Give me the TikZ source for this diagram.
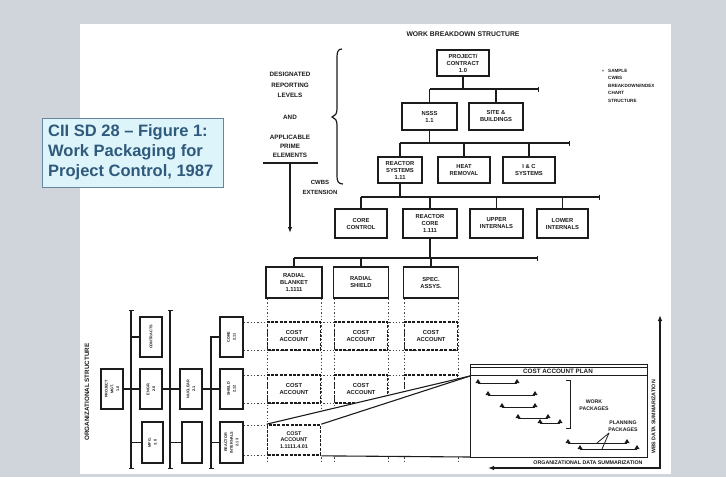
\documentclass[tikz,border=0pt]{standalone}
\usepackage{fontspec}
\setmainfont{Liberation Sans}
\usetikzlibrary{arrows.meta}

\definecolor{slide}{HTML}{D0D4DB}
\definecolor{ink}{HTML}{1C1C1C}
\definecolor{capfill}{HTML}{DDF4FA}
\definecolor{capedge}{HTML}{6585A0}
\definecolor{captext}{HTML}{2F5A7C}
\definecolor{gridink}{HTML}{474747}

\newcommand\fsz[2]{\fontsize{#1}{#2}\selectfont\bfseries}
% a bar with milestone triangles at both ends: x1, x2, y
\newcommand\wpbar[3]{%
  \draw[ink, line width=0.9pt] (#1,#3) -- (#2,#3);
  \fill[ink] (#1-2.5,#3) -- (#1,#3-4) -- (#1+2.5,#3) -- cycle;
  \fill[ink] (#2-2.5,#3) -- (#2,#3-4) -- (#2+2.5,#3) -- cycle;}

\tikzset{
  bigtip/.tip={Latex[length=6pt,width=4.5pt]},
  bartip/.tip={Bar[width=5pt,line width=1.1pt]},
}

\begin{document}
\begin{tikzpicture}[x=1pt,y=-1pt,
  wbs/.style={draw=ink, line width=1.4pt, fill=white, inner sep=0pt, align=center,
    font=\fsz{5.8}{7}, text=ink},
  acct/.style={draw=ink, line width=1.7pt, dash pattern=on 3pt off 1.4pt, fill=white,
    inner sep=0pt, align=center, font=\fsz{5.8}{7}, text=ink,
    minimum width=53pt, minimum height=28pt},
  org/.style={draw=ink, line width=1.1pt, fill=white, inner sep=0pt,
    minimum width=22pt, minimum height=40pt, font=\fsz{3.8}{4.6}, text=ink},
  bus/.style={draw=ink, line width=1.1pt},
  busend/.style={bus, -{bartip}},
  gridline/.style={draw=gridink, line width=1pt, dash pattern=on 1.3pt off 2pt},
  lbl/.style={font=\fsz{6.3}{10.5}, align=center, text=ink, inner sep=0pt},
  small/.style={font=\fsz{5.2}{6.6}, align=center, text=ink, inner sep=0pt},
]
\useasboundingbox (0,0) rectangle (726,477);
\fill[slide] (0,0) rectangle (726,477);
\fill[white] (80,24) rectangle (671,474);

% ---------------- caption ----------------
\node[draw=capedge, line width=1.2pt, fill=capfill, minimum width=181pt,
  minimum height=69pt, anchor=north west, inner sep=0pt] (capbox) at (42,118) {};
\node[anchor=west, align=left, font=\fontsize{16.5}{20}\selectfont\bfseries,
  text=captext, inner sep=0pt] (captxt) at (48,152.5)
  {CII SD 28 -- Figure 1:\\Work Packaging for\\Project Control, 1987};

% ---------------- headings ----------------
\node[font=\fsz{6.8}{8}, text=ink] (title) at (463,34) {WORK BREAKDOWN STRUCTURE};
\node[lbl] (desig) at (290,85) {DESIGNATED\\REPORTING\\LEVELS};
\node[lbl] (andlbl) at (290,117) {AND};
\node[lbl, font=\fsz{6.3}{9}] (appl) at (290,146) {APPLICABLE\\PRIME\\ELEMENTS};
\coordinate (ulL) at (263,163);
\coordinate (ulR) at (318,163);
\coordinate (ulM) at (290,163);
\coordinate (extEnd) at (290,233);
\draw[ink, line width=1.1pt] (ulL) -- (ulR);
\draw[ink, line width=1.1pt, -{bigtip}] (ulM) -- (extEnd);
\node[lbl, font=\fsz{6.0}{10}] (cwbsext) at (320,187) {CWBS\\EXTENSION};
\draw[ink, line width=1.2pt] (342,49) .. controls (338,49) and (337,52) .. (337,57)
  -- (337,109) .. controls (337,114) and (335,116) .. (332,117)
  .. controls (335,118) and (337,120) .. (337,125)
  -- (337,176) .. controls (337,181) and (338,184) .. (343,184);

\node[text=gridink, font=\fsz{5}{6}, inner sep=0pt] (star) at (603,72) {*};
\node[font=\fsz{4.6}{7.5}, align=left, anchor=north west, text=ink, inner sep=0pt]
  (legend) at (608,69) {SAMPLE\\CWBS\\BREAKDOWN/INDEX\\CHART\\STRUCTURE};

% ---------------- work breakdown structure ----------------
\node[wbs, minimum width=52pt, minimum height=26pt, line width=1.7pt] (proj) at (463,63)
  {PROJECT/\\CONTRACT\\1.0};
\node[wbs, minimum width=55pt, minimum height=27pt] (nsss) at (429.5,116.5) {NSSS\\1.1};
\node[wbs, minimum width=54pt, minimum height=27pt] (site) at (496,116.5) {SITE \&\\BUILDINGS};

\node[wbs, minimum width=44pt, minimum height=26pt] (rsys) at (400,170) {REACTOR\\SYSTEMS\\1.11};
\node[wbs, minimum width=52pt, minimum height=26pt] (heat) at (464,170) {HEAT\\REMOVAL};
\node[wbs, minimum width=52pt, minimum height=26pt] (ic) at (529,170) {I \& C\\SYSTEMS};

\node[wbs, minimum width=52pt, minimum height=29pt] (corec) at (361,223.5) {CORE\\CONTROL};
\node[wbs, minimum width=54pt, minimum height=29pt] (rcore) at (430,223.5) {REACTOR\\CORE\\1.111};
\node[wbs, minimum width=53pt, minimum height=29pt] (upper) at (496.5,223.5) {UPPER\\INTERNALS};
\node[wbs, minimum width=51pt, minimum height=29pt] (lower) at (562.5,223.5) {LOWER\\INTERNALS};

\node[wbs, minimum width=56pt, minimum height=31pt] (rblank) at (294,282.5) {RADIAL\\BLANKET\\1.1111};
\node[wbs, minimum width=55pt, minimum height=31pt] (rshield) at (361,282.5) {RADIAL\\SHIELD};
\node[wbs, minimum width=55pt, minimum height=31pt] (spec) at (431,282.5) {SPEC.\\ASSYS.};

% level buses
\coordinate (b1L) at (429.5,89);  \coordinate (b1R) at (539,89);
\coordinate (b2L) at (400,143);   \coordinate (b2R) at (570,143);
\coordinate (b3L) at (361,197);   \coordinate (b3R) at (600,197);
\coordinate (b4L) at (294,258);   \coordinate (b4R) at (538,258);
\draw[busend] (b1L) -- (b1R);
\draw[busend] (b2L) -- (b2R);
\draw[busend] (b3L) -- (b3R);
\draw[busend] (b4L) -- (b4R);

\draw[bus] (proj.south) -- (proj.south |- b1L);
\draw[bus] (b1L) -- (nsss.north);
\draw[bus] (site.north |- b1L) -- (site.north);

\draw[bus] (nsss.south) -- (nsss.south |- b2L);
\draw[bus] (b2L) -- (rsys.north);
\draw[bus] (heat.north |- b2L) -- (heat.north);
\draw[bus] (ic.north |- b2L) -- (ic.north);

\draw[bus] (rsys.south) -- (rsys.south |- b3L);
\draw[bus] (b3L) -- (corec.north);
\draw[bus] (rcore.north |- b3L) -- (rcore.north);
\draw[bus] (upper.north |- b3L) -- (upper.north);
\draw[bus] (lower.north |- b3L) -- (lower.north);

\draw[bus] (rcore.south) -- (rcore.south |- b4L);
\draw[bus] (b4L) -- (rblank.north);
\draw[bus] (rshield.north |- b4L) -- (rshield.north);
\draw[bus] (spec.north |- b4L) -- (spec.north);

% ---------------- organizational structure ----------------
\node[rotate=90, font=\fsz{6.3}{7}, text=ink, inner sep=0pt] (orglbl) at (87,392)
  {ORGANIZATIONAL STRUCTURE};

\node[org] (oA)  at (112,389)   {\rotatebox{90}{\shortstack{PROJECT\\MGT.\\1.0}}};
\node[org] (oB1) at (151,337)   {\rotatebox{90}{CONTRACTS}};
\node[org] (oB2) at (151,389)   {\rotatebox{90}{\shortstack{ENGR.\\2.0}}};
\node[org, minimum width=21pt, minimum height=41pt] (oB3) at (152.5,442.5)
  {\rotatebox{90}{\shortstack{MFG.\\3.0}}};
\node[org] (oC2) at (191,389)   {\rotatebox{90}{\shortstack{NUCLEAR\\2.1}}};
\node[org, minimum width=20pt, minimum height=41pt] (oC3) at (192,442.5) {};
\node[org, minimum width=23pt] (oD1) at (231.5,337) {\rotatebox{90}{\shortstack{CORE\\2.11}}};
\node[org, minimum width=23pt] (oD2) at (231.5,389) {\rotatebox{90}{\shortstack{SHIELD\\2.12}}};
\node[org, minimum width=23pt, minimum height=41pt] (oD3) at (231.5,442.5)
  {\rotatebox{90}{\shortstack{REACTOR\\INTERNALS\\2.13}}};

\coordinate (ob1T) at (131,310); \coordinate (ob1B) at (131,469);
\coordinate (ob2T) at (170,310); \coordinate (ob2B) at (170,469);
\coordinate (ob3T) at (211,337); \coordinate (ob3B) at (211,469);
\draw[bus, {bartip}-{bartip}] (ob1T) -- (ob1B);
\draw[bus, {bartip}-{bartip}] (ob2T) -- (ob2B);
\draw[busend] (oD1.west) -- (ob3T) -- (ob3B);

\draw[bus] (oA.east) -- (oB2.west);
\draw[bus] (oB2.east) -- (oC2.west);
\draw[bus] (oC2.east) -- (oD2.west);
\draw[bus] (oB1.west -| ob1T) -- (oB1.west);
\draw[bus] (oB3.west -| ob1T) -- (oB3.west);
\draw[bus] (oC3.west -| ob2T) -- (oC3.west);
\draw[bus] (oD3.west -| ob3T) -- (oD3.west);

% ---------------- cost account matrix ----------------
\foreach \gx in {267,321,334,388,404,458}
  \draw[gridline] (\gx,299) -- (\gx,461);
\foreach \gy in {322,350,375,403,425,455}
  \draw[gridline] (244,\gy) -- (458,\gy);

\node[acct] (ca11) at (294,336) {COST\\ACCOUNT};
\node[acct] (ca21) at (361,336) {COST\\ACCOUNT};
\node[acct] (ca31) at (431,336) {COST\\ACCOUNT};
\node[acct] (ca12) at (294,389) {COST\\ACCOUNT};
\node[acct] (ca22) at (361,389) {COST\\ACCOUNT};
\node[acct] (ca32) at (431,389) {};

% magnified view of one cost account
\coordinate (pNW) at (470,364);
\coordinate (pIn) at (470,376);
\coordinate (pSW) at (470,457);
\fill[white] (268,424) -- (pIn) -- (pSW) -- (322,456) -- (268,456) -- cycle;
\node[acct, minimum height=30pt, font=\fsz{5.4}{6.6}] (ca13) at (294,440)
  {COST\\ACCOUNT\\1.1111.4.01};
\draw[ink, line width=1.1pt] (ca13.north west) -- (pIn);
\draw[ink, line width=1.1pt] (ca13.north east) -- (pIn);
\draw[ink, line width=1.1pt] (ca13.south east) -- (pSW);

\node[draw=ink, line width=1.2pt, fill=white, minimum width=177pt, minimum height=93pt,
  anchor=north west, inner sep=0pt] (plan) at (pNW) {};
\coordinate (hdr) at (0,375);
\draw[ink, line width=1pt] (plan.west |- hdr) -- (plan.east |- hdr);
\draw[ink, line width=0.8pt] ([yshift=-3pt]plan.north west) -- ([yshift=-3pt]plan.north east);
\node[font=\fsz{6.3}{7}, text=ink, inner sep=0pt] (plancap) at (558,371) {COST ACCOUNT PLAN};

\wpbar{478}{517}{383}
\wpbar{488}{535}{395}
\wpbar{502}{535}{407}
\wpbar{518}{548}{418}
\wpbar{540}{560}{423}
\wpbar{568}{627}{443}
\wpbar{580}{637}{449}
\draw[ink, line width=0.9pt] (566,380) -- (570,380) -- (570,428) -- (566,428);
\node[small] (wpk) at (594,405) {WORK\\PACKAGES};
\node[small] (ppk) at (623,426) {PLANNING\\PACKAGES};
\coordinate (ppA) at (609,433);
\draw[ink, line width=0.8pt] (ppA) -- (597,443);
\draw[ink, line width=0.8pt] (ppA) -- (602,449);

% ---------------- summarization arrows ----------------
\coordinate (orgEnd) at (488,468);
\coordinate (corner) at (660,468);
\coordinate (wbsEnd) at (660,315);
\draw[ink, line width=1.1pt, {bigtip}-{bigtip}] (orgEnd) -- (corner) -- (wbsEnd);
\node[font=\fsz{5.3}{6}, text=ink, inner sep=0pt] (orgsum) at (588,462.5)
  {ORGANIZATIONAL DATA SUMMARIZATION};
\node[rotate=90, font=\fsz{5.3}{6}, text=ink, inner sep=0pt] (wbssum) at (653.5,417)
  {WBS DATA SUMMARIZATION};
\end{tikzpicture}
\end{document}
